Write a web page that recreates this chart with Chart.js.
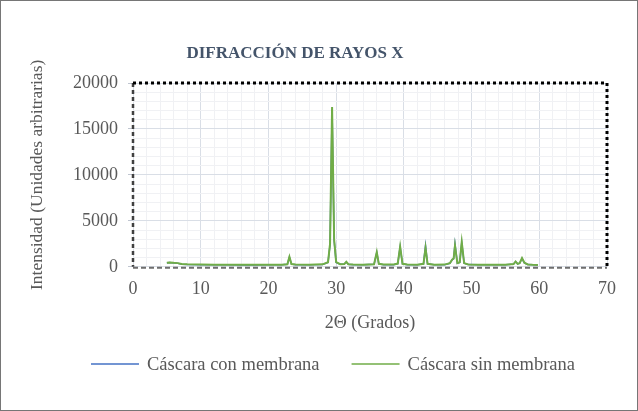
<!DOCTYPE html>
<html>
<head>
<meta charset="utf-8">
<script src="https://cdn.jsdelivr.net/npm/chart.js@4/dist/chart.umd.min.js"></script>
<style>
  html, body { margin: 0; padding: 0; background: #fff; }
  #wrap { width: 638px; height: 411px; position: relative; }
</style>
</head>
<body>
<div id="wrap"><canvas id="xrd-chart"></canvas></div>
<script>
// 2θ positions (degrees) shared by both scans
const twoTheta = [5.0, 5.4, 6.0, 6.6, 7.2, 8, 10, 12, 14, 16, 18, 20, 22,
  22.8, 23.1, 23.4, 24, 26, 28, 28.8, 29.1, 29.4, 29.7, 30.0, 30.6,
  31.2, 31.5, 31.8, 32.5, 34, 35.6, 36.0, 36.3, 37, 38.5,
  39.1, 39.45, 39.8, 40.5, 42, 42.9, 43.2, 43.5, 44.5, 46,
  46.8, 47.15, 47.35, 47.55, 47.9, 48.25, 48.55, 48.9, 49.5, 51, 53, 55,
  56.2, 56.5, 56.8, 57.1, 57.45, 57.8, 58.3, 59, 59.8];

// Intensity (a.u.) - eggshell with membrane
const conMembrana = [420, 460, 420, 380, 290, 260, 230, 220, 210, 200, 200, 210, 220,
  270, 1050, 290, 230, 220, 260, 480, 2400, 17100, 2900, 480, 270,
  290, 520, 270, 230, 220, 270, 1550, 310, 230, 230,
  340, 2150, 320, 230, 220, 310, 2300, 310, 220, 230,
  380, 780, 880, 2500, 390, 480, 2600, 390, 240, 220, 210, 220,
  290, 560, 310, 390, 900, 430, 240, 210, 190];

// Intensity (a.u.) - eggshell without membrane
const sinMembrana = [450, 480, 430, 400, 300, 270, 240, 230, 220, 210, 210, 220, 230,
  280, 1100, 300, 240, 230, 270, 500, 2500, 17400, 3000, 500, 280,
  300, 550, 280, 240, 230, 280, 1600, 320, 240, 240,
  350, 2200, 330, 240, 230, 320, 2050, 320, 230, 240,
  400, 800, 900, 2300, 400, 500, 2700, 400, 250, 230, 220, 230,
  300, 580, 320, 400, 950, 450, 250, 220, 200];

const seriesNames = ['Cáscara con membrana', 'Cáscara sin membrana'];
const xTicks = [0, 10, 20, 30, 40, 50, 60, 70];
const yTicks = [0, 5000, 10000, 15000, 20000];
const chartTitle = 'DIFRACCIÓN DE RAYOS X';

const SERIF = "'Liberation Serif', 'Times New Roman', serif";
const TEXT = '#595959';
const MAJOR = '#D9DEE6';
const MINOR = '#F0F1F4';

function toPoints(ys) {
  return twoTheta.map((x, i) => ({ x: x, y: ys[i] }));
}

// plot frame, outer border, title and legend drawn by hand
const framePlugin = {
  id: 'frame',
  afterDatasetsDraw(chart) {
    const { ctx, chartArea: a } = chart;
    ctx.save();
    // left: dark dashed
    ctx.strokeStyle = '#404040';
    ctx.lineWidth = 2.5;
    ctx.setLineDash([4, 3]);
    ctx.beginPath();
    ctx.moveTo(a.left, a.top);
    ctx.lineTo(a.left, a.bottom);
    ctx.stroke();
    // bottom: grey dashed
    ctx.strokeStyle = '#6E6E6E';
    ctx.lineWidth = 2;
    ctx.setLineDash([5, 3]);
    ctx.beginPath();
    ctx.moveTo(a.left, a.bottom + 1);
    ctx.lineTo(a.right, a.bottom + 1);
    ctx.stroke();
    // top + right: black square dots
    ctx.strokeStyle = '#000';
    ctx.lineWidth = 3;
    ctx.setLineDash([3, 3]);
    ctx.beginPath();
    ctx.moveTo(a.left, a.top);
    ctx.lineTo(a.right, a.top);
    ctx.lineTo(a.right, a.bottom + 2);
    ctx.stroke();
    ctx.restore();
  },
  afterDraw(chart) {
    const { ctx, width, height } = chart;
    ctx.save();
    ctx.strokeStyle = '#767676';
    ctx.lineWidth = 1;
    ctx.strokeRect(0.5, 0.5, width - 1, height - 1);

    // title
    ctx.font = 'bold 17px ' + SERIF;
    ctx.fillStyle = '#44546A';
    ctx.textAlign = 'center';
    ctx.textBaseline = 'middle';
    ctx.fillText(chartTitle, 295, 54);

    // legend
    ctx.textAlign = 'left';
    ctx.font = '18.5px ' + SERIF;
    const lineLen = 48, gapText = 8, gapItem = 32, y = 364;
    const items = chart.data.datasets.map(ds => ({
      label: ds.label, color: ds.borderColor, w: lineLen + gapText + ctx.measureText(ds.label).width
    }));
    const total = items.reduce((s, it) => s + it.w, 0) + gapItem * (items.length - 1);
    let x = 333 - total / 2;
    items.forEach(it => {
      ctx.strokeStyle = it.color;
      ctx.lineWidth = 1.5;
      ctx.beginPath();
      ctx.moveTo(x, y);
      ctx.lineTo(x + lineLen, y);
      ctx.stroke();
      ctx.fillStyle = TEXT;
      ctx.fillText(it.label, x + lineLen + gapText, y + 1);
      x += it.w + gapItem;
    });
    ctx.restore();
  }
};

new Chart(document.getElementById('xrd-chart'), {
  type: 'line',
  data: {
    datasets: [{
      label: seriesNames[0],
      data: toPoints(conMembrana),
      borderColor: '#4472C4',
      borderWidth: 1.5,
      pointRadius: 0,
      tension: 0,
      order: 1
    }, {
      label: seriesNames[1],
      data: toPoints(sinMembrana),
      borderColor: '#70AD47',
      borderWidth: 2,
      pointRadius: 0,
      tension: 0,
      order: 0
    }]
  },
  options: {
    responsive: true,
    maintainAspectRatio: false,
    animation: false,
    layout: { padding: { left: 10, right: 31, top: 83, bottom: 68 } },
    plugins: {
      legend: { display: false },
      tooltip: { enabled: false },
      title: { display: false }
    },
    scales: {
      x: {
        type: 'linear',
        min: 0,
        max: 70,
        border: { display: false },
        grid: {
          drawTicks: false,
          color: c => (xTicks.includes(c.tick.value) ? MAJOR : MINOR)
        },
        ticks: {
          stepSize: 2,
          autoSkip: false,
          maxRotation: 0,
          padding: 12,
          color: TEXT,
          font: { family: SERIF, size: 18 },
          callback: v => (xTicks.includes(v) ? v : '')
        },
        title: {
          display: true,
          text: '2Θ (Grados)',
          color: TEXT,
          font: { family: SERIF, size: 18 },
          padding: { top: 0, bottom: 9 }
        }
      },
      y: {
        min: 0,
        max: 20000,
        border: { display: false },
        grid: {
          tickLength: 5,
          color: c => (yTicks.includes(c.tick.value) ? MAJOR : MINOR),
          tickColor: c => (yTicks.includes(c.tick.value) ? '#BFC5D0' : 'rgba(0,0,0,0)')
        },
        ticks: {
          stepSize: 1000,
          autoSkip: false,
          padding: 10,
          color: TEXT,
          font: { family: SERIF, size: 18 },
          callback: v => (yTicks.includes(v) ? v : '')
        },
        title: {
          display: true,
          text: 'Intensidad (Unidades arbitrarias)',
          color: TEXT,
          font: { family: SERIF, size: 17.5 },
          padding: { top: 17, bottom: 15 }
        }
      }
    }
  },
  plugins: [framePlugin]
});
</script>
</body>
</html>
